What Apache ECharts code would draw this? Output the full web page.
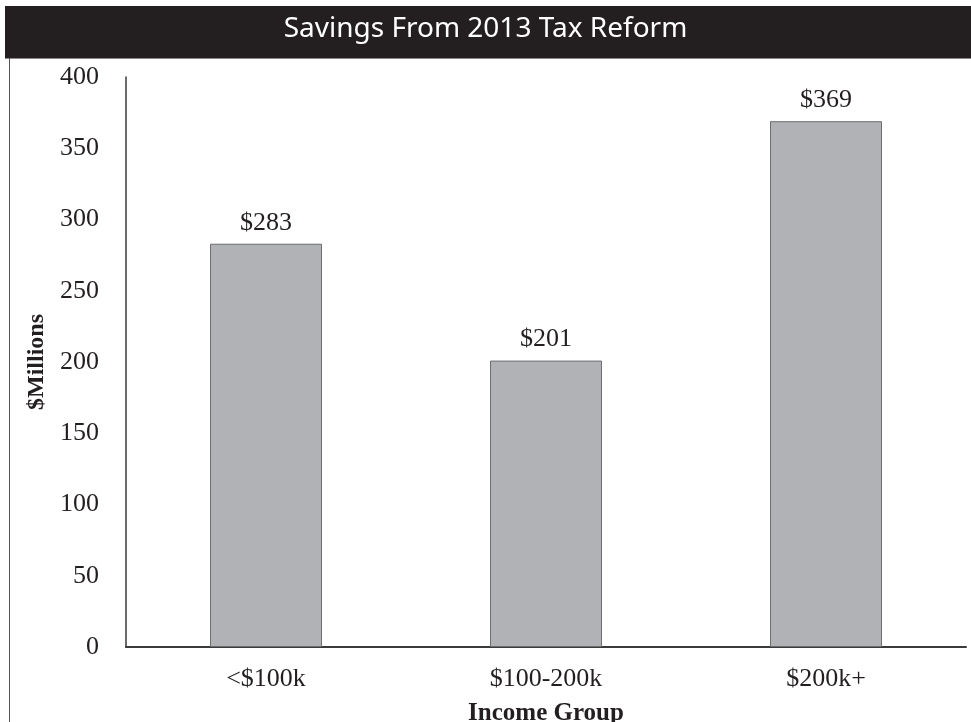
<!DOCTYPE html>
<html>
<head>
<meta charset="utf-8">
<script src="https://cdn.jsdelivr.net/npm/echarts@6/dist/echarts.min.js"></script>
<style>
  html, body { margin: 0; padding: 0; background: #fff; }
  #chart { width: 971px; height: 722px; }
</style>
</head>
<body>
<div id="chart"></div>
<script>
// Income groups and savings ($ millions)
const categories = ['<$100k', '$100-200k', '$200k+'];
const savings = [283, 201, 369];
const yTicks = { min: 0, max: 400, step: 50 };

const serif = '"Liberation Serif", "Times New Roman", serif';

const chart = echarts.init(document.getElementById('chart'));
chart.setOption({
  animation: false,
  backgroundColor: '#ffffff',
  graphic: [
    // header band
    { type: 'rect', left: 5, top: 6, shape: { width: 966, height: 52 },
      style: { fill: '#231f20' }, z: 10 },
    { type: 'line', shape: { x1: 5, y1: 58.5, x2: 971, y2: 58.5 },
      style: { stroke: '#8a8a8a', lineWidth: 1 }, z: 10 },
    // left frame edge
    { type: 'line', shape: { x1: 9.5, y1: 58, x2: 9.5, y2: 722 },
      style: { stroke: '#555', lineWidth: 1 }, z: 10 },
    { type: 'text', left: 'center', top: 15, z: 11,
      style: { text: 'Savings From 2013 Tax Reform', fill: '#ffffff',
        font: '400 28px "Noto Sans", "Lato", sans-serif' } }
  ],
  grid: { left: 126, right: 5, top: 77, bottom: 75, outerBoundsMode: 'none', containLabel: false },
  xAxis: {
    type: 'category',
    data: categories,
    axisLine: { lineStyle: { color: '#3a3a3a', width: 2 } },
    axisTick: { show: false },
    axisLabel: { color: '#231f20', fontFamily: serif, fontSize: 26, margin: 19 },
    name: 'Income Group',
    nameLocation: 'middle',
    nameGap: 54,
    nameTextStyle: { color: '#231f20', fontFamily: serif, fontSize: 25, fontWeight: 'bold' }
  },
  yAxis: {
    type: 'value',
    min: yTicks.min,
    max: yTicks.max,
    interval: yTicks.step,
    splitLine: { show: false },
    axisLine: { show: true, lineStyle: { color: '#3a3a3a', width: 1.5 } },
    axisTick: { show: false },
    axisLabel: { color: '#231f20', fontFamily: serif, fontSize: 26, margin: 27 },
    name: '$Millions',
    nameLocation: 'middle',
    nameGap: 77,
    nameTextStyle: { color: '#231f20', fontFamily: serif, fontSize: 24, fontWeight: 'bold' }
  },
  series: [{
    type: 'bar',
    data: savings,
    barWidth: '40%',
    itemStyle: { color: '#b1b2b5', borderColor: '#6d6e70', borderWidth: 1 },
    label: {
      show: true,
      position: 'top',
      distance: 8,
      formatter: p => '$' + p.value,
      color: '#231f20',
      fontFamily: serif,
      fontSize: 26
    }
  }]
});
</script>
</body>
</html>
